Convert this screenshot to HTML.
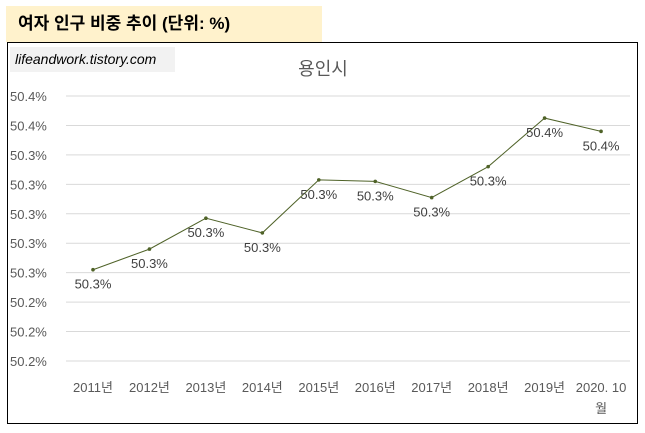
<!DOCTYPE html>
<html><head><meta charset="utf-8">
<style>
body{margin:0;width:645px;height:433px;background:#fff;position:relative;overflow:hidden;font-family:"Liberation Sans","Noto Sans CJK KR",sans-serif}
#title{position:absolute;left:6px;top:6px;width:316px;height:36px;background:#fff2cc;font-weight:bold;font-size:17px;line-height:36px;padding-left:12px;box-sizing:border-box;color:#000}
#chart{position:absolute;left:7px;top:42px;width:631px;height:382px;border:1px solid #000;box-sizing:border-box}
#wm{position:absolute;left:10px;top:47px;width:165px;height:25px;background:#f2f2f2;font-style:italic;font-size:14px;line-height:25px;padding-left:5px;box-sizing:border-box;color:#000}
svg{position:absolute;left:0;top:0}
</style></head><body>
<div id="title">여자 인구 비중 추이 (단위: %)</div>
<div id="chart"></div>
<div id="wm">lifeandwork.tistory.com</div>
<svg id="svg" width="645" height="433"></svg>
<script>
const categories=["2011년","2012년","2013년","2014년","2015년","2016년","2017년","2018년","2019년","2020. 10|월"];
const values=[50.262,50.276,50.297,50.287,50.323,50.322,50.311,50.332,50.365,50.356];
const yTicks=[50.20,50.22,50.24,50.26,50.28,50.30,50.32,50.34,50.36,50.38];
const NS="http://www.w3.org/2000/svg";
const svg=document.getElementById('svg');
const yMin=50.20,yMax=50.38,yB=361,yT=96;
const y=v=>yB-(v-yMin)/(yMax-yMin)*(yB-yT);
const x=i=>93+i*56.45;
function mk(t,a,p){const e=document.createElementNS(NS,t);for(const k in a)e.setAttribute(k,a[k]);(p||svg).appendChild(e);return e;}
const t=mk('text',{x:323,y:75,'font-size':18,fill:'#595959','text-anchor':'middle'});


t.textContent='용인시';
yTicks.forEach(v=>{
 const l=mk('line',{x1:66,x2:630,y1:y(v),y2:y(v),stroke:'#d9d9d9','stroke-width':1});
 
 
 const tx=mk('text',{x:10,y:y(v)+5,'font-size':13,fill:'#595959'});
 
 
 tx.textContent=v.toFixed(1)+'%';
});
const line=mk('polyline',{points:values.map((v,i)=>x(i)+','+y(v)).join(' '),fill:'none',stroke:'#4f6228','stroke-width':1});


values.forEach((v,i)=>{
 const c=mk('circle',{cx:x(i),cy:y(v),r:1.8,fill:'#4f6228'});
 
 
 const l=mk('text',{x:x(i),y:y(v)+19,'font-size':13,fill:'#404040','text-anchor':'middle'});
 
 
 l.textContent=v.toFixed(1)+'%';
});
categories.forEach((c,i)=>{
 const parts=c.split('|');
 parts.forEach((p,j)=>{
  const tx=mk('text',{x:x(i)+(j?0:0),y:392+j*21,'font-size':13,fill:'#595959','text-anchor':'middle'});
  
  
  tx.textContent=p;
 });
});
</script>
</body></html>
